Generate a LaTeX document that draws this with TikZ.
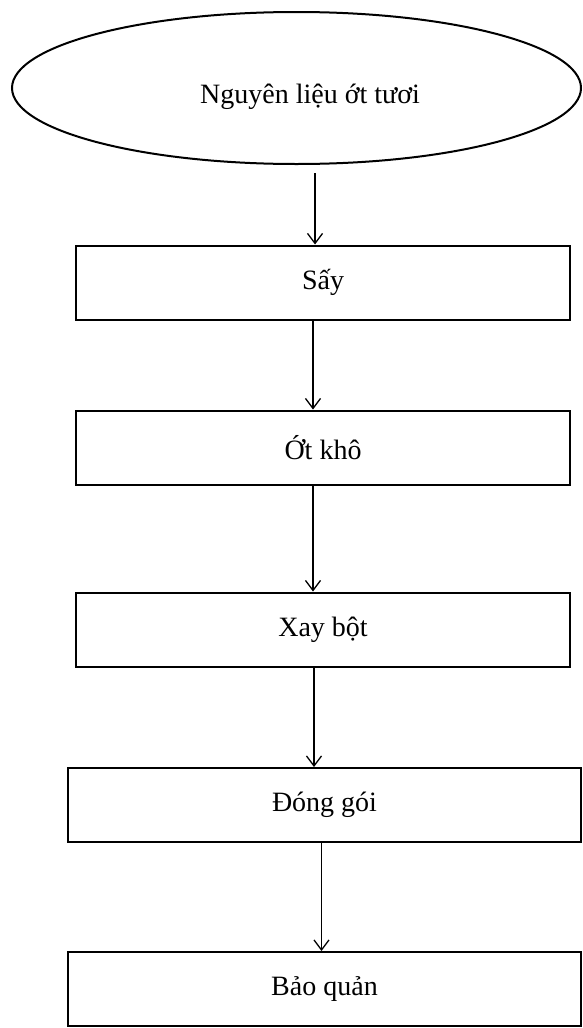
\documentclass[tikz,border=0pt]{standalone}
\usepackage{fontspec}
\setmainfont{Liberation Serif}
\usetikzlibrary{shapes.geometric,arrows.meta}
\begin{document}
\begin{tikzpicture}[x=1pt,y=1pt,
  every node/.style={font=\fontsize{28}{32}\selectfont},
  stepbox/.style={draw, line width=2pt, rectangle, inner sep=0pt, minimum width=494pt, minimum height=74pt},
  widebox/.style={stepbox, minimum width=513pt},
  flow/.style={draw, line width=1.3pt, -{Straight Barb[length=10pt,width=15pt,line width=1.3pt]}},
]
\useasboundingbox (0,0) rectangle (582,-1028);
\node[draw, ellipse, line width=2pt, minimum width=569pt, minimum height=152pt, inner sep=0pt] (src) at (296.5,-88) {};
\node (srctext) at (310,-97) {Nguyên liệu ớt tươi};
\node[stepbox] (s1) at (323,-282.5) {Sấy};
\node[stepbox] (s2) at (323,-447.5) {Ớt khô};
\node[stepbox] (s3) at (323,-629.5) {Xay bột};
\node[widebox] (s4) at (324.5,-805) {Đóng gói};
\node[widebox] (s5) at (324.5,-989) {Bảo quản};
\draw[flow] ([xshift=18.5pt,yshift=-8pt]src.south) -- ([xshift=-8pt]s1.north);
\draw[flow] ([xshift=-10pt]s1.south) -- ([xshift=-10pt]s2.north);
\draw[flow] ([xshift=-10pt]s2.south) -- ([xshift=-10pt]s3.north);
\draw[flow] ([xshift=-9pt]s3.south) -- ([xshift=-10.5pt]s4.north);
\draw[flow] ([xshift=-3pt]s4.south) -- ([xshift=-3pt]s5.north);
\end{tikzpicture}
\end{document}
